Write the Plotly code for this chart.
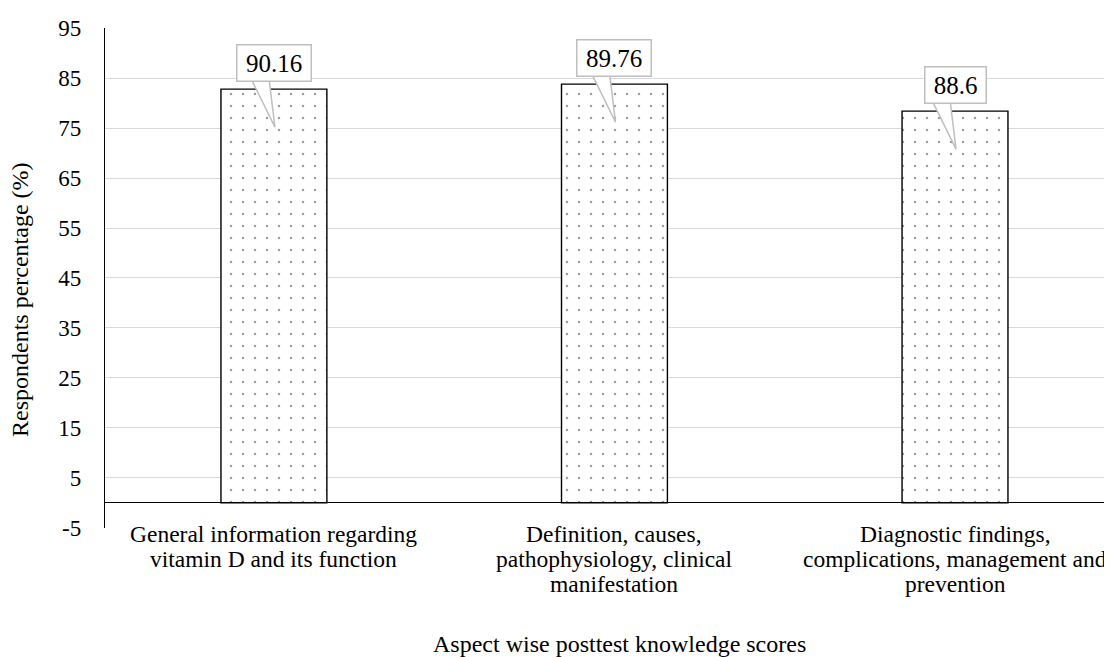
import plotly.graph_objects as go

categories = [
    "General information regarding vitamin D and its function",
    "Definition, causes, pathophysiology, clinical manifestation",
    "Diagnostic findings, complications, management and prevention",
]
category_lines = [
    ["General information regarding", "vitamin D and its function"],
    ["Definition, causes,", "pathophysiology, clinical", "manifestation"],
    ["Diagnostic findings,", "complications, management and", "prevention"],
]
bar_values = [82.8, 83.8, 78.4]
label_texts = ["90.16", "89.76", "88.6"]
y_ticks = [-5, 5, 15, 25, 35, 45, 55, 65, 75, 85, 95]
x_title = "Aspect wise posttest knowledge scores"
y_title = "Respondents percentage (%)"

FONT = "Liberation Serif"

fig = go.Figure()
fig.add_trace(go.Bar(
    x=categories,
    y=bar_values,
    width=0.311,
    marker=dict(
        color="white",
        line=dict(color="black", width=1.4),
        pattern=dict(shape=".", size=12, solidity=0.035, fgcolor="#3a3a3a", bgcolor="white", fillmode="overlay"),
    ),
    showlegend=False,
    hoverinfo="skip",
))

shapes = []
annotations = []
for i, (v, t) in enumerate(zip(bar_values, label_texts)):
    shapes.append(dict(
        type="path", xref="x", yref="y", layer="above",
        path=f"M {i-0.07},{v+2.5} L {i+0.003},{v-7.6} L {i-0.015},{v+2.5} Z",
        fillcolor="white", line=dict(color="#bfbfbf", width=1.5),
    ))
    w = 12.9 * sum(0.5 if c == "." else 1.0 for c in t) + 13
    annotations.append(dict(
        x=i, y=v, xref="x", yref="y", text=t, showarrow=False,
        yshift=26, width=w, height=33, borderpad=1,
        bgcolor="white", bordercolor="#bfbfbf", borderwidth=1.5,
        font=dict(family=FONT, size=25, color="black"),
    ))

# category labels, one line each (tight line spacing)
for i, lines in enumerate(category_lines):
    for k, line in enumerate(lines):
        annotations.append(dict(
            x=i, y=0, xref="x", yref="paper", text=line, showarrow=False,
            xanchor="center", yanchor="middle", yshift=-6 - 25 * k,
            font=dict(family=FONT, size=23.5, color="black"),
        ))

annotations.append(dict(
    x=0.511, y=0, xref="paper", yref="paper", text=x_title, showarrow=False,
    xanchor="center", yanchor="middle", yshift=-116,
    font=dict(family=FONT, size=24, color="black"),
))
annotations.append(dict(
    x=0, y=0.456, xref="paper", yref="paper", text=y_title, showarrow=False,
    xanchor="center", yanchor="middle", xshift=-85, textangle=-90,
    font=dict(family=FONT, size=24, color="black"),
))

fig.update_layout(
    width=1104, height=649,
    margin=dict(l=97, r=0, t=20, b=129, autoexpand=False),
    paper_bgcolor="white", plot_bgcolor="white",
    font=dict(family=FONT, size=23, color="black"),
    shapes=shapes,
    annotations=annotations,
    xaxis=dict(
        type="category",
        range=[-0.496, 2.461],
        automargin=False,
        showgrid=False, showline=False, ticks="",
        showticklabels=False,
    ),
    yaxis=dict(
        range=[-5.06, 95.04],
        automargin=False,
        tickvals=y_ticks,
        ticktext=[str(v) for v in y_ticks],
        showgrid=True, gridcolor="#d9d9d9", gridwidth=1.3,
        zeroline=True, zerolinecolor="black", zerolinewidth=1.4,
        showline=True, linecolor="black", linewidth=1.4,
        ticks="", ticklabelstandoff=18,
        tickfont=dict(family=FONT, size=23, color="black"),
    ),
)

fig.write_html("out.html")
